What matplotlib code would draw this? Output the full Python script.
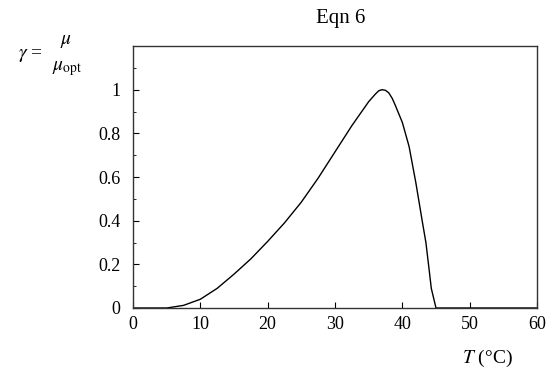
"""Relative growth rate vs temperature (Eqn 6)."""
import matplotlib
matplotlib.use("Agg")
import matplotlib.pyplot as plt
from matplotlib.ticker import MultipleLocator

plt.rcParams["font.family"] = ["Liberation Serif", "DejaVu Serif"]
plt.rcParams["mathtext.fontset"] = "stix"

# values
temp_c = [0, 5, 7.5, 10, 12.5, 15, 17.5, 20, 22.5, 25, 27.5, 30, 32.5,
          35, 36, 36.5, 37, 37.5, 38, 38.5, 39, 40, 41, 42, 43, 43.5, 44,
          44.3, 45, 60]
gamma = [0, 0, 0.012, 0.04, 0.09, 0.155, 0.225, 0.305, 0.39, 0.485, 0.595,
         0.715, 0.835, 0.945, 0.98, 0.995, 1.0, 0.997, 0.985, 0.96, 0.925,
         0.85, 0.74, 0.575, 0.39, 0.30, 0.17, 0.09, 0.0, 0.0]

x_ticks = [0, 10, 20, 30, 40, 50, 60]
y_ticks = [0, 0.2, 0.4, 0.6, 0.8, 1]
y_tick_labels = ["0", "0.2", "0.4", "0.6", "0.8", "1"]

fig = plt.figure(figsize=(5.53, 3.70), dpi=100)
ax = fig.add_axes([133 / 553, 1 - 308 / 370, (537 - 133) / 553, (308 - 46) / 370])

ax.plot(temp_c, gamma, color="black", lw=1.0, solid_joinstyle="round")

ax.set_xlim(0, 60)
ax.set_ylim(0, 1.2)
ax.set_xticks(x_ticks)
ax.set_yticks(y_ticks)
ax.set_yticklabels(y_tick_labels)
ax.yaxis.set_minor_locator(MultipleLocator(0.1))
ax.tick_params(which="both", direction="in", labelsize=13, colors="black")
ax.tick_params(which="major", length=4, width=0.8)
ax.tick_params(which="minor", length=2.5, width=0.6)
ax.tick_params(axis="x", which="major", pad=6)
ax.tick_params(axis="y", which="major", pad=9)
for side in ax.spines.values():
    side.set_linewidth(1.0)
    side.set_color("#333333")

fig.text(341 / 553, 1 - 18 / 370, "Eqn 6", ha="center", va="center", fontsize=15)
fig.text(18 / 553, 1 - 56 / 370, r"$\gamma$ =", ha="left", va="center", fontsize=14)
fig.text(66 / 553, 1 - 41 / 370, r"$\mu$", ha="center", va="center", fontsize=14)
fig.text(52 / 553, 1 - 69 / 370, r"$\mu_{\mathrm{opt}}$", ha="left", va="center", fontsize=14)
fig.text(487 / 553, 1 - 358 / 370, r"$T$ (°C)", ha="center", va="center", fontsize=14)

fig.savefig("out.png", dpi=100)
